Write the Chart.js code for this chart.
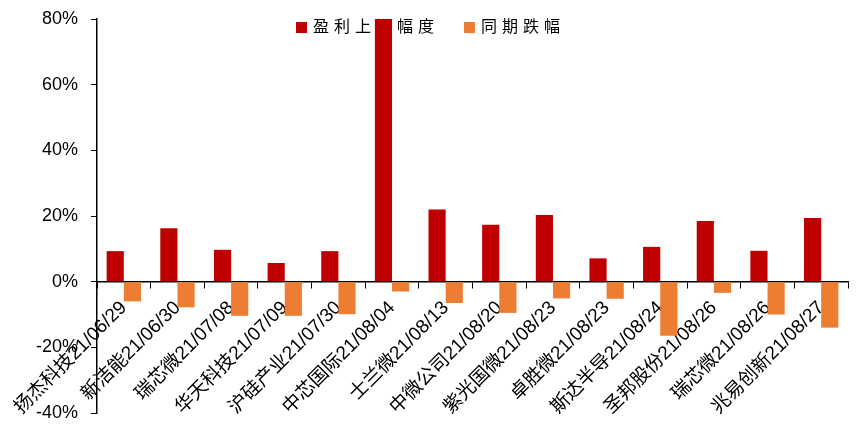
<!DOCTYPE html>
<html>
<head>
<meta charset="utf-8">
<script src="https://cdn.jsdelivr.net/npm/chart.js@4.4.1/dist/chart.umd.min.js"></script>
<style>
  html, body { margin: 0; padding: 0; background: #fff; }
  #wrap { width: 858px; height: 432px; }
</style>
</head>
<body>
<div id="wrap"><canvas id="chart"></canvas></div>
<script>
const categories = [
  "扬杰科技21/06/29", "新洁能21/06/30", "瑞芯微21/07/08", "华天科技21/07/09",
  "沪硅产业21/07/30", "中芯国际21/08/04", "士兰微21/08/13", "中微公司21/08/20",
  "紫光国微21/08/23", "卓胜微21/08/23", "斯达半导21/08/24", "圣邦股份21/08/26",
  "瑞芯微21/08/26", "兆易创新21/08/27"
];
const profitUp = [9.3, 16.3, 9.7, 5.7, 9.3, 80, 22.0, 17.3, 20.3, 7.1, 10.6, 18.5, 9.4, 19.4];
const periodDrop = [-6.0, -7.8, -10.4, -10.4, -9.9, -3.0, -6.5, -9.5, -5.1, -5.2, -16.5, -3.4, -10.0, -14.0];
const seriesNames = ["盈利上调幅度", "同期跌幅"];
const yTicks = [-40, -20, 0, 20, 40, 60, 80];

const FONT = "'Liberation Sans', 'Noto Sans CJK SC', sans-serif";

// 图例画在绘图区内部，柱子盖在它上面
const innerLegend = {
  id: "innerLegend",
  beforeDatasetsDraw(chart) {
    const ctx = chart.ctx;
    ctx.save();
    ctx.font = "16px " + FONT;
    ctx.textBaseline = "middle";
    ctx.letterSpacing = "5px";
    let x = 296;
    const y = 28;
    chart.data.datasets.forEach((ds) => {
      ctx.fillStyle = ds.backgroundColor;
      ctx.fillRect(x, y - 6, 11, 11);
      ctx.fillStyle = "#000";
      ctx.fillText(ds.label, x + 17, y);
      x += 17 + ctx.measureText(ds.label).width + 25;
    });
    ctx.restore();
  },
  // x 轴在柱子之后绘制，标签加字距
  afterDatasetsDraw(chart) {
    chart.ctx.letterSpacing = "3.5px";
  },
  afterDraw(chart) {
    chart.ctx.letterSpacing = "0px";
  }
};

new Chart(document.getElementById("chart"), {
  type: "bar",
  data: {
    labels: categories,
    datasets: [
      { label: seriesNames[0], data: profitUp, backgroundColor: "#C00000" },
      { label: seriesNames[1], data: periodDrop, backgroundColor: "#ED7D31" }
    ]
  },
  options: {
    responsive: true,
    maintainAspectRatio: false,
    animation: false,
    layout: { padding: { top: 19, right: 10, bottom: 19, left: 0 } },
    datasets: { bar: { categoryPercentage: 0.64, barPercentage: 1 } },
    plugins: {
      legend: { display: false },
      tooltip: { enabled: false }
    },
    scales: {
      x: {
        position: { y: 0 },
        z: 1,
        grid: { drawOnChartArea: false, color: "#000", tickLength: 6 },
        border: { color: "#000", width: 1.5 },
        ticks: {
          color: "#000",
          font: { family: FONT, size: 19 },
          minRotation: 45,
          maxRotation: 45,
          autoSkip: false,
          padding: 9
        }
      },
      y: {
        min: yTicks[0],
        max: yTicks[yTicks.length - 1],
        afterFit(scale) {
          scale.width = 97;
          scale.paddingTop = 0;
          scale.paddingBottom = 0;
        },
        afterBuildTicks(scale) { scale.ticks = yTicks.map((v) => ({ value: v })); },
        grid: { drawOnChartArea: false, color: "#000", tickLength: 6 },
        border: { color: "#000", width: 1.5 },
        ticks: {
          color: "#000",
          font: { family: FONT, size: 18 },
          padding: 13,
          callback: (v) => v + "%"
        }
      }
    }
  },
  plugins: [innerLegend]
});
</script>
</body>
</html>
